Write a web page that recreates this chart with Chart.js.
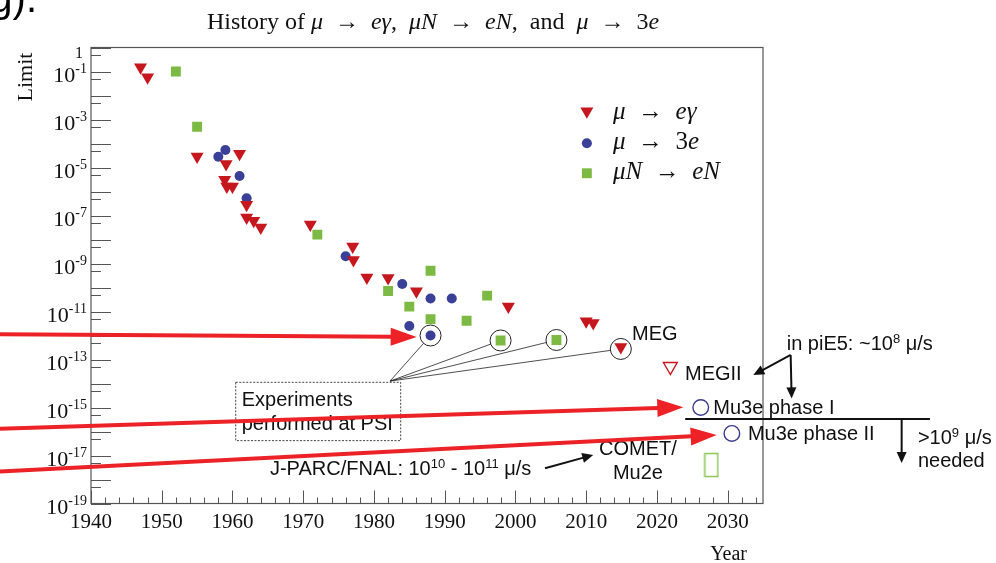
<!DOCTYPE html>
<html>
<head>
<meta charset="utf-8">
<script src="https://cdn.jsdelivr.net/npm/chart.js@4.4.0/dist/chart.umd.min.js"></script>
<style>
  html, body { margin: 0; padding: 0; background: #fff; }
  #wrap { width: 996px; height: 563px; }
</style>
</head>
<body>
<div id="wrap"><canvas id="lfv-chart"></canvas></div>
<script>
// mu -> e gamma
const egYears  = [1947, 1948, 1955, 1959.1, 1961, 1958.9, 1959.2, 1960, 1962, 1962, 1963, 1964, 1971, 1977, 1977.1, 1979, 1982, 1986, 1999, 2010, 2011, 2014.9];
const egLimits = [1.5e-1, 5.8e-2, 2.9e-5, 1.4e-5, 3.7e-5, 3.1e-6, 1.6e-6, 1.6e-6, 2.8e-7, 8.3e-8, 6.0e-8, 3.2e-8, 4.2e-8, 5.1e-9, 1.4e-9, 2.6e-10, 2.5e-10, 6.9e-11, 1.6e-11, 3.9e-12, 3.3e-12, 3.3e-13];

// mu -> 3e
const eeeYears  = [1958, 1959, 1961, 1962, 1976, 1984, 1988, 1991, 1985, 1988];
const eeeLimits = [2.8e-5, 5.4e-5, 4.4e-6, 5.2e-7, 2.0e-9, 1.4e-10, 3.5e-11, 3.5e-11, 2.5e-12, 1.0e-12];

// mu N -> e N
const convYears  = [1952, 1955, 1972, 1982, 1985, 1988, 1988, 1993.1, 1996, 1997.9, 2005.8];
const convLimits = [1.0e-1, 5.0e-4, 1.6e-8, 7.1e-11, 1.6e-11, 5.0e-10, 4.8e-12, 4.1e-12, 4.6e-11, 6.2e-13, 6.5e-13];

// projected sensitivities
const megIIYears  = [2021.9];
const megIILimits = [5.1e-14];
const mu3eYears   = [2026.2, 2030.6];
const mu3eLimits  = [1.0e-15, 8.3e-17];
const cometYears  = [2027.7];
const cometLimits = [4.0e-18];

// experiments performed at PSI (circled)
const psiYears  = [1988, 1997.9, 2005.8, 2014.9];
const psiLimits = [1.0e-12, 6.2e-13, 6.5e-13, 2.75e-13];

const xTickLabels = [1940, 1950, 1960, 1970, 1980, 1990, 2000, 2010, 2020, 2030];
const yLabelExps = [-1, -3, -5, -7, -9, -11, -13, -15, -17, -19];

const SERIF = '"Liberation Serif", "DejaVu Serif", serif';
const SANS = '"Liberation Sans", Arial, sans-serif';
const RED = '#c5171d';
const BLUE = '#3a3f97';
const GREEN = '#7dba43';
const ARROW_RED = '#ec2227';
const RING = 10.5;
const TO = '\u2002\u2192\u2002'; // relation arrow with math spacing

function pts(xs, ys) {
    return xs.map((v, i) => ({x: v, y: ys[i]}));
}

// parts: [text, font, dy]
function drawRich(ctx, parts, x, y, align) {
    let w = 0;
    parts.forEach(p => { ctx.font = p[1]; w += ctx.measureText(p[0]).width; });
    let cx = align === 'center' ? x - w / 2 : (align === 'right' ? x - w : x);
    ctx.textAlign = 'left';
    ctx.textBaseline = 'alphabetic';
    parts.forEach(p => {
        ctx.font = p[1];
        ctx.fillText(p[0], cx, y + (p[2] || 0));
        cx += ctx.measureText(p[0]).width;
    });
}

function drawArrow(ctx, x0, y0, x1, y1, len, half) {
    const ang = Math.atan2(y1 - y0, x1 - x0);
    const c = Math.cos(ang), s = Math.sin(ang);
    const bx = x1 - len * c, by = y1 - len * s;
    ctx.beginPath();
    ctx.moveTo(x0, y0);
    ctx.lineTo(bx + c, by + s);
    ctx.stroke();
    ctx.beginPath();
    ctx.moveTo(x1, y1);
    ctx.lineTo(bx - half * s, by + half * c);
    ctx.lineTo(bx + half * s, by - half * c);
    ctx.closePath();
    ctx.fill();
}

// open rectangle for the COMET / Mu2e projection
function cometMarker() {
    const c = document.createElement('canvas');
    c.width = 16;
    c.height = 26;
    const g = c.getContext('2d');
    g.strokeStyle = '#8cc653';
    g.lineWidth = 1.5;
    g.strokeRect(1.5, 1.5, 13, 23);
    return c;
}

const lfvOverlay = {
    id: 'lfvOverlay',
    beforeDatasetsDraw(chart) {
        const {ctx, chartArea: a, scales: {x, y}} = chart;
        ctx.save();
        ctx.strokeStyle = '#555';
        ctx.lineWidth = 1.2;
        ctx.strokeRect(a.left, a.top, a.right - a.left, a.bottom - a.top);

        // ticks point inwards, like the original
        ctx.lineWidth = 1;
        ctx.beginPath();
        y.ticks.forEach(t => {
            const yy = Math.round(y.getPixelForValue(t.value)) + 0.5;
            const lg = Math.log10(t.value);
            const len = Math.abs(lg - Math.round(lg)) < 1e-6 ? 20 : 10;
            ctx.moveTo(a.left, yy);
            ctx.lineTo(a.left + len, yy);
        });
        for (let yr = 1940; yr <= 2035; yr += 2) {
            const xx = Math.round(x.getPixelForValue(yr)) + 0.5;
            const len = yr % 10 === 0 ? 13 : 6;
            ctx.moveTo(xx, a.bottom);
            ctx.lineTo(xx, a.bottom - len);
        }
        ctx.stroke();
        ctx.restore();
    },
    afterDraw(chart) {
        const {ctx, chartArea: a, scales: {x, y}} = chart;
        const P = (yr, e) => [x.getPixelForValue(yr), y.getPixelForValue(Math.pow(10, e))];
        const R = '24px ' + SERIF, I = 'italic 24px ' + SERIF;
        const LR = '25px ' + SERIF, LI = 'italic 25px ' + SERIF;
        const F = '20px ' + SANS, S = '13px ' + SANS;

        ctx.save();
        ctx.fillStyle = '#111';

        // y tick labels
        yLabelExps.forEach(e => {
            const yy = y.getPixelForValue(Math.pow(10, e));
            drawRich(ctx, [['10', '22px ' + SERIF, 10.5], ['-' + (-e), '14px ' + SERIF, 1.5]], a.left - 4, yy, 'right');
        });
        drawRich(ctx, [['1', '16px ' + SERIF, 3.3]], a.left - 8, y.getPixelForValue(0.5), 'right');

        // title
        drawRich(ctx, [
            ['History of ', R], ['\u03bc', I], [TO, R], ['e\u03b3', I], [',  ', R],
            ['\u03bcN', I], [TO, R], ['eN', I], [',  and  ', R],
            ['\u03bc', I], [TO, R], ['3', R], ['e', I]
        ], 433, 29, 'center');

        // axis titles
        ctx.font = '20px ' + SERIF;
        ctx.textAlign = 'right';
        ctx.fillText('Year', a.right - 16, 560);
        ctx.save();
        ctx.translate(31.5, 101.5);
        ctx.rotate(-Math.PI / 2);
        ctx.font = '22px ' + SERIF;
        ctx.textAlign = 'left';
        ctx.fillText('Limit', 0, 0);
        ctx.restore();

        // legend inside the frame
        const legend = [
            [{pointStyle: 'triangle', rotation: 180, radius: 7.5, borderWidth: 0}, RED, -2.66, 113.3,
                [['\u03bc', LI], [TO, LR], ['e\u03b3', LI]]],
            [{pointStyle: 'circle', radius: 5, borderWidth: 0}, BLUE, -3.99, 143.3,
                [['\u03bc', LI], [TO, LR], ['3', LR], ['e', LI]]],
            [{pointStyle: 'rect', radius: 7, borderWidth: 0}, GREEN, -5.24, 173.3,
                [['\u03bcN', LI], [TO, LR], ['eN', LI]]]
        ];
        legend.forEach(([style, color, e, ty, parts]) => {
            const [mx, my] = P(2010.1, e);
            ctx.fillStyle = color;
            Chart.helpers.drawPoint(ctx, style, mx, my);
            ctx.fillStyle = '#111';
            drawRich(ctx, parts, x.getPixelForValue(2013.8), ty + 6, 'left');
        });

        // "Experiments performed at PSI" box and its pointer lines
        const [bx0, by0] = P(1960.46, -13.95);
        const [bx1, by1] = P(1983.78, -16.38);
        ctx.strokeStyle = '#444';
        ctx.lineWidth = 1;
        ctx.setLineDash([2, 1.5]);
        ctx.strokeRect(bx0, by0, bx1 - bx0, by1 - by0);
        ctx.setLineDash([]);
        const [cx, cy] = P(1982.27, -13.9);
        ctx.strokeStyle = '#222';
        ctx.lineWidth = 0.8;
        psiYears.forEach((yr, i) => {
            const rx = x.getPixelForValue(yr), ry = y.getPixelForValue(psiLimits[i]);
            const d = Math.hypot(cx - rx, cy - ry);
            ctx.beginPath();
            ctx.moveTo(rx + RING * (cx - rx) / d, ry + RING * (cy - ry) / d);
            ctx.lineTo(cx, cy);
            ctx.stroke();
        });

        // text annotations: parts, year, exponent of the text centre, align
        const notes = [
            [[['Experiments', F]], 1961.3, -14.65, 'left'],
            [[['performed at PSI', F]], 1961.3, -15.65, 'left'],
            [[['MEG', F]], 2016.48, -11.90, 'left'],
            [[['MEGII', F]], 2023.97, -13.56, 'left'],
            [[['Mu3e phase I', F]], 2027.97, -14.98, 'left'],
            [[['Mu3e phase II', F]], 2032.87, -16.06, 'left'],
            [[['in piE5: ~10', F], ['8', S, -7], [' \u03bc/s', F]], 2038.35, -12.30, 'left'],
            [[['>10', F], ['9', S, -7], [' \u03bc/s', F]], 2056.9, -16.23, 'left'],
            [[['needed', F]], 2056.9, -17.19, 'left'],
            [[['COMET/', F]], 2017.32, -16.69, 'center'],
            [[['Mu2e', F]], 2017.32, -17.69, 'center'],
            [[['J-PARC/FNAL: 10', F], ['10', S, -7], [' - 10', F], ['11', S, -7], [' \u03bc/s', F]], 1965.3, -17.52, 'left']
        ];
        ctx.fillStyle = '#111';
        notes.forEach(([parts, yr, e, align]) => {
            const [tx, ty] = P(yr, e);
            drawRich(ctx, parts, tx, ty + 7, align);
        });

        // black pointer lines and arrows
        ctx.strokeStyle = '#111';
        ctx.fillStyle = '#111';
        ctx.lineWidth = 2;
        const [hx0, hy] = P(2024.0, -15.48);
        const [hx1] = P(2058.6, -15.48);
        ctx.beginPath();
        ctx.moveTo(hx0, hy);
        ctx.lineTo(hx1, hy);
        ctx.stroke();
        const blackArrows = [
            [2054.6, -15.48, 2054.6, -17.31],
            [2038.91, -12.81, 2033.63, -13.65],
            [2038.91, -12.81, 2039.05, -14.62],
            [2004.18, -17.53, 2011.0, -16.98]
        ];
        blackArrows.forEach(([x0, e0, x1, e1]) => {
            const [p0x, p0y] = P(x0, e0);
            const [p1x, p1y] = P(x1, e1);
            drawArrow(ctx, p0x, p0y, p1x, p1y, 11, 5);
        });

        // red arrows from the slide
        ctx.strokeStyle = ARROW_RED;
        ctx.fillStyle = ARROW_RED;
        ctx.lineWidth = 4;
        const redArrows = [
            [1926, -11.95, 1986.04, -12.06],
            [1926, -15.90, 2023.73, -14.99],
            [1926, -17.68, 2028.45, -16.15]
        ];
        redArrows.forEach(([x0, e0, x1, e1]) => {
            const [p0x, p0y] = P(x0, e0);
            const [p1x, p1y] = P(x1, e1);
            drawArrow(ctx, p0x, p0y, p1x, p1y, 26, 9);
        });

        // cut-off text of the slide above the plot
        ctx.fillStyle = '#000';
        ctx.font = '40px ' + SANS;
        ctx.textAlign = 'right';
        ctx.fillText('g).', 37, 12);
        ctx.restore();
    }
};

function initializeLfvChart() {
    const ctx = document.getElementById('lfv-chart').getContext('2d');

    new Chart(ctx, {
        type: 'scatter',
        data: {
            datasets: [
                {
                    label: '\u03bc \u2192 e\u03b3',
                    data: pts(egYears, egLimits),
                    pointStyle: 'triangle',
                    rotation: 180,
                    radius: 7.5,
                    backgroundColor: RED,
                    borderWidth: 0
                },
                {
                    label: '\u03bc \u2192 3e',
                    data: pts(eeeYears, eeeLimits),
                    pointStyle: 'circle',
                    radius: 5,
                    backgroundColor: BLUE,
                    borderWidth: 0
                },
                {
                    label: '\u03bcN \u2192 eN',
                    data: pts(convYears, convLimits),
                    pointStyle: 'rect',
                    radius: 7,
                    backgroundColor: GREEN,
                    borderWidth: 0
                },
                {
                    label: 'MEGII',
                    data: pts(megIIYears, megIILimits),
                    pointStyle: 'triangle',
                    rotation: 180,
                    radius: 8,
                    backgroundColor: 'rgba(0,0,0,0)',
                    borderColor: RED,
                    borderWidth: 1.4
                },
                {
                    label: 'Mu3e',
                    data: pts(mu3eYears, mu3eLimits),
                    pointStyle: 'circle',
                    radius: 7.8,
                    backgroundColor: 'rgba(0,0,0,0)',
                    borderColor: '#3b3a8e',
                    borderWidth: 1.4
                },
                {
                    label: 'COMET/Mu2e',
                    data: pts(cometYears, cometLimits),
                    pointStyle: cometMarker(),
                    radius: 8
                },
                {
                    label: 'PSI',
                    data: pts(psiYears, psiLimits),
                    pointStyle: 'circle',
                    radius: RING,
                    backgroundColor: 'rgba(0,0,0,0)',
                    borderColor: '#222',
                    borderWidth: 1
                }
            ]
        },
        options: {
            responsive: true,
            maintainAspectRatio: false,
            animation: false,
            layout: {
                padding: {top: 47.5, right: 233, bottom: 0, left: 0}
            },
            scales: {
                x: {
                    type: 'linear',
                    min: 1940,
                    max: 2035,
                    grid: {display: false, drawTicks: false},
                    border: {display: false},
                    afterBuildTicks: s => { s.ticks = xTickLabels.map(v => ({value: v})); },
                    afterFit: s => { s.height = 59.5; },
                    ticks: {
                        padding: 6,
                        color: '#111',
                        font: {family: SERIF, size: 21},
                        maxRotation: 0,
                        autoSkip: false,
                        callback: v => String(v)
                    }
                },
                y: {
                    type: 'logarithmic',
                    min: 1e-19,
                    max: 1,
                    grid: {display: false, drawTicks: false},
                    border: {display: false},
                    afterBuildTicks: s => {
                        const t = [];
                        for (let e = 0; e >= -19; e--) {
                            t.push({value: Math.pow(10, e)});
                            if (e > -19) t.push({value: 5 * Math.pow(10, e - 1)});
                        }
                        s.ticks = t;
                    },
                    afterFit: s => { s.width = 91; },
                    ticks: {display: false}
                }
            },
            plugins: {
                legend: {display: false},
                tooltip: {enabled: false}
            }
        },
        plugins: [lfvOverlay]
    });
}

initializeLfvChart();
</script>
</body>
</html>
